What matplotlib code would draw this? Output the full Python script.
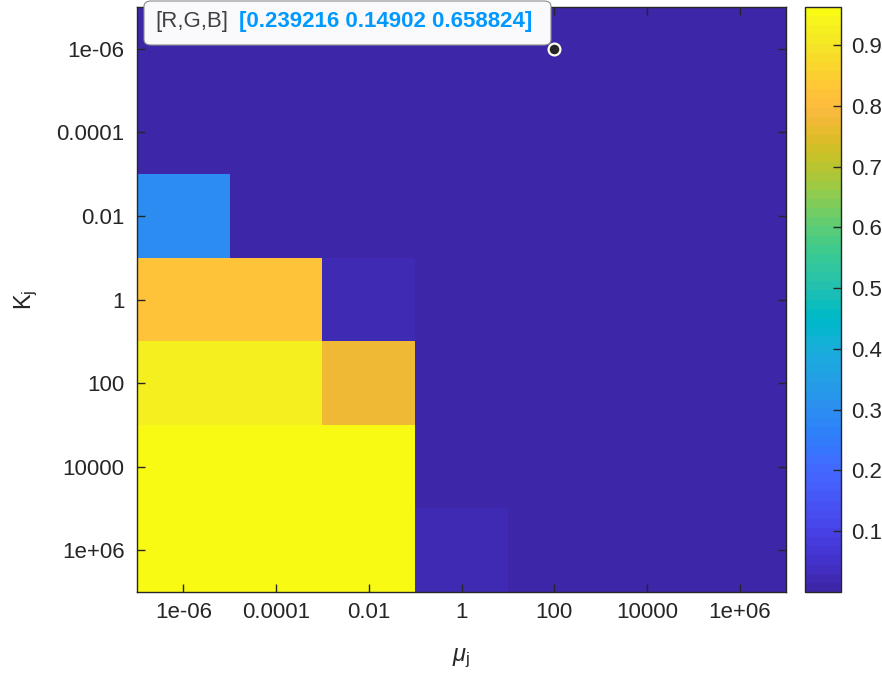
import numpy as np
import matplotlib
matplotlib.use('Agg')
import matplotlib.pyplot as plt
from matplotlib.colors import ListedColormap
from matplotlib.patches import FancyBboxPatch

plt.rcParams['font.family'] = ['Liberation Sans', 'DejaVu Sans']
plt.rcParams['mathtext.fontset'] = 'custom'
plt.rcParams['mathtext.rm'] = 'Liberation Sans'
plt.rcParams['mathtext.it'] = 'Liberation Sans:italic'

# axis labels (same grid for mu_j and K_j)
mu_labels = ['1e-06', '0.0001', '0.01', '1', '100', '10000', '1e+06']
K_labels = ['1e-06', '0.0001', '0.01', '1', '100', '10000', '1e+06']

# one row per K_j value, columns follow mu_j
row_K_1e_06 = [0.0, 0.0, 0.0, 0.0, 0.0, 0.0, 0.0]
row_K_1e_04 = [0.0, 0.0, 0.0, 0.0, 0.0, 0.0, 0.0]
row_K_1e_02 = [0.29, 0.012, 0.0, 0.0, 0.0, 0.0, 0.0]
row_K_1e00 = [0.815, 0.815, 0.03, 0.004, 0.0, 0.0, 0.0]
row_K_1e02 = [0.93, 0.93, 0.78, 0.012, 0.0, 0.0, 0.0]
row_K_1e04 = [0.9625, 0.9625, 0.9625, 0.012, 0.0, 0.0, 0.0]
row_K_1e06 = [0.9625, 0.9625, 0.9625, 0.03, 0.0, 0.0, 0.0]

cbar_ticks = [0.1, 0.2, 0.3, 0.4, 0.5, 0.6, 0.7, 0.8, 0.9]
tip_point = (4, 0)   # (mu index, K index) of the data tip
tip_rgb = '[0.239216 0.14902 0.658824]'

# MATLAB parula (R2014b, 64 colours)
parula_data = [
    [0.2422, 0.1504, 0.6603], [0.2504, 0.1650, 0.7076], [0.2578, 0.1818, 0.7511],
    [0.2647, 0.1978, 0.7952], [0.2706, 0.2147, 0.8364], [0.2751, 0.2342, 0.8710],
    [0.2783, 0.2559, 0.8991], [0.2803, 0.2782, 0.9221], [0.2813, 0.3006, 0.9414],
    [0.2810, 0.3228, 0.9579], [0.2795, 0.3447, 0.9717], [0.2760, 0.3667, 0.9829],
    [0.2699, 0.3892, 0.9906], [0.2602, 0.4123, 0.9952], [0.2440, 0.4358, 0.9988],
    [0.2206, 0.4603, 0.9973], [0.1963, 0.4847, 0.9892], [0.1834, 0.5074, 0.9798],
    [0.1786, 0.5289, 0.9682], [0.1764, 0.5499, 0.9520], [0.1687, 0.5703, 0.9359],
    [0.1540, 0.5902, 0.9218], [0.1460, 0.6091, 0.9079], [0.1380, 0.6276, 0.8973],
    [0.1248, 0.6459, 0.8883], [0.1113, 0.6635, 0.8763], [0.0952, 0.6798, 0.8598],
    [0.0689, 0.6948, 0.8394], [0.0297, 0.7082, 0.8163], [0.0036, 0.7203, 0.7917],
    [0.0067, 0.7312, 0.7660], [0.0433, 0.7411, 0.7394], [0.0964, 0.7500, 0.7120],
    [0.1408, 0.7584, 0.6842], [0.1717, 0.7670, 0.6554], [0.1938, 0.7758, 0.6251],
    [0.2161, 0.7843, 0.5923], [0.2470, 0.7918, 0.5567], [0.2906, 0.7973, 0.5188],
    [0.3406, 0.8008, 0.4789], [0.3909, 0.8029, 0.4354], [0.4456, 0.8024, 0.3909],
    [0.5044, 0.7993, 0.3480], [0.5616, 0.7942, 0.3045], [0.6174, 0.7876, 0.2612],
    [0.6720, 0.7793, 0.2227], [0.7242, 0.7698, 0.1910], [0.7738, 0.7598, 0.1646],
    [0.8203, 0.7498, 0.1535], [0.8634, 0.7406, 0.1596], [0.9035, 0.7330, 0.1774],
    [0.9393, 0.7288, 0.2100], [0.9728, 0.7298, 0.2394], [0.9956, 0.7434, 0.2371],
    [0.9970, 0.7659, 0.2199], [0.9952, 0.7893, 0.2028], [0.9892, 0.8136, 0.1885],
    [0.9786, 0.8386, 0.1766], [0.9676, 0.8639, 0.1643], [0.9610, 0.8890, 0.1537],
    [0.9597, 0.9135, 0.1423], [0.9628, 0.9373, 0.1265], [0.9691, 0.9606, 0.1064],
    [0.9769, 0.9839, 0.0805]]
parula = ListedColormap(parula_data, name='parula')

values = np.array([row_K_1e_06, row_K_1e_04, row_K_1e_02, row_K_1e00,
                   row_K_1e02, row_K_1e04, row_K_1e06])

W, H = 882, 679
fig = plt.figure(figsize=(W / 100, H / 100), dpi=100)
fig.patch.set_facecolor('white')

def box(x0, y0, x1, y1):
    # pixel box (top-left origin) -> figure fraction rect
    return [x0 / W, 1 - y1 / H, (x1 - x0) / W, (y1 - y0) / H]

ax = fig.add_axes(box(137, 7, 786, 592))
cax = fig.add_axes(box(805, 7, 841, 592))

im = ax.imshow(values, cmap=parula, vmin=values.min(), vmax=values.max(),
               aspect='auto', interpolation='nearest')

dark = '#262626'
ax.set_xticks(range(len(mu_labels)))
ax.set_xticklabels(mu_labels)
ax.set_yticks(range(len(K_labels)))
ax.set_yticklabels(K_labels)
ax.tick_params(direction='in', top=True, right=True, length=6, width=1,
               color=dark, labelcolor=dark, labelsize=16)
ax.tick_params(axis='x', pad=7)
ax.tick_params(axis='y', pad=9)
for s in ax.spines.values():
    s.set_color(dark)
    s.set_linewidth(1)

ax.set_xlabel(r'$\mu_{\mathrm{j}}$', fontsize=17, color=dark, labelpad=17)
ax.set_ylabel(r'$\mathrm{K}_{\mathrm{j}}$', fontsize=17, color=dark, labelpad=12)

cb = fig.colorbar(im, cax=cax, ticks=cbar_ticks)
cb.ax.tick_params(direction='in', length=6, width=1, color=dark,
                  labelcolor=dark, labelsize=16, pad=7)
cb.outline.set_edgecolor(dark)
cb.outline.set_linewidth(1)

# data tip
ax.plot(*tip_point, 'o', ms=8.5, mfc=dark, mec='#FFFFF0', mew=1.6,
        clip_on=False, zorder=5)
bx = box(144, 1, 551, 45)
tip = FancyBboxPatch((bx[0], bx[1]), bx[2], bx[3],
                     boxstyle='round,pad=0,rounding_size=0.008',
                     transform=fig.transFigure, facecolor='#FAFAFD',
                     edgecolor='#8C8C8C', linewidth=0.8, zorder=4)
fig.patches.append(tip)
fig.text(155 / W, 1 - 22 / H, '[R,G,B]', color='#404040', fontsize=16,
         ha='left', va='center', zorder=6)
fig.text(239 / W, 1 - 22 / H, tip_rgb, color='#0099FF', fontsize=16,
         fontweight='bold', ha='left', va='center', zorder=6)

fig.savefig('out.png', dpi=100)
